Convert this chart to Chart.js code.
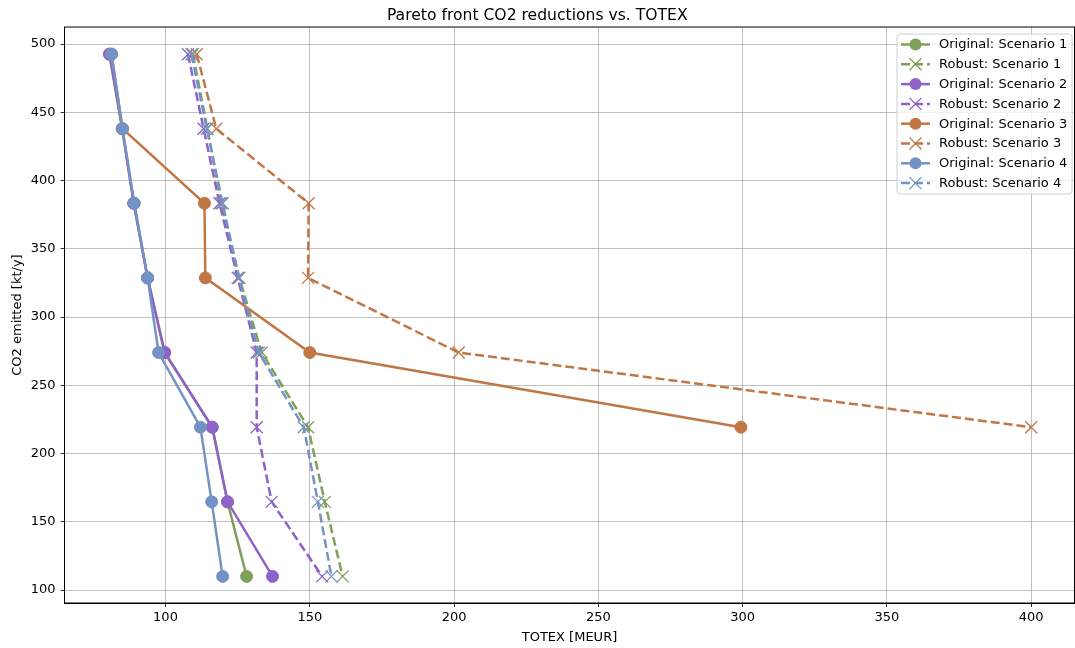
<!DOCTYPE html>
<html>
<head>
<meta charset="utf-8">
<script src="https://cdn.jsdelivr.net/npm/chart.js@4/dist/chart.umd.min.js"></script>
<style>
  html, body { margin: 0; padding: 0; background: #fff; }
  #wrap { width: 1075px; height: 648px; }
</style>
</head>
<body>
<div id="wrap"><canvas id="chart" width="1075" height="648"></canvas></div>
<script>
// CO2 levels (kt/y), shared by all scenarios
const co2 = [492.6, 438, 383.4, 328.7, 274, 219.3, 164.6, 110];

// TOTEX (MEUR) per scenario
const totexOrig1 = [80.6, 85, 89, 93.8, 99.7, 116.2, 121.5, 128.1];
const totexRob1 = [109.5, 114.5, 119.4, 125.6, 133.3, 149.4, 155.2, 161.4];
const totexOrig2 = [80.6, 85, 89, 93.8, 99.7, 116.2, 121.5, 137.1];
const totexRob2 = [107.8, 113.2, 118.7, 125, 131.6, 131.6, 136.8, 154.3];
const totexOrig3 = [81.3, 85.1, 113.5, 113.8, 150, 299.4];
const totexRob3 = [110.8, 117.6, 149.6, 149.4, 201.6, 400];
const totexOrig4 = [81.3, 85.1, 89.2, 93.8, 97.6, 112.1, 116, 119.8];
const totexRob4 = [109, 114.3, 119.8, 125.4, 132.3, 147.9, 152.8, 157.5];

const xTicks = [100, 150, 200, 250, 300, 350, 400];
const yTicks = [100, 150, 200, 250, 300, 350, 400, 450, 500];

const colors = ["#7fa05a", "#8e62c8", "#c07745", "#7393c6"];

const font = "DejaVu Sans";
const dash = [9, 4];

function pts(xs) {
  return xs.map((x, i) => ({ x: x, y: co2[i] }));
}

const series = [
  { label: "Original: Scenario 1", xs: totexOrig1, c: colors[0], robust: false },
  { label: "Robust: Scenario 1", xs: totexRob1, c: colors[0], robust: true },
  { label: "Original: Scenario 2", xs: totexOrig2, c: colors[1], robust: false },
  { label: "Robust: Scenario 2", xs: totexRob2, c: colors[1], robust: true },
  { label: "Original: Scenario 3", xs: totexOrig3, c: colors[2], robust: false },
  { label: "Robust: Scenario 3", xs: totexRob3, c: colors[2], robust: true },
  { label: "Original: Scenario 4", xs: totexOrig4, c: colors[3], robust: false },
  { label: "Robust: Scenario 4", xs: totexRob4, c: colors[3], robust: true },
];

const datasets = series.map((s, i) => ({
  label: s.label,
  data: pts(s.xs),
  showLine: true,
  borderColor: s.c,
  backgroundColor: s.c,
  borderWidth: 2.5,
  borderDash: s.robust ? dash : [],
  pointStyle: s.robust ? "crossRot" : "circle",
  pointRadius: s.robust ? 8.5 : 6,
  pointBorderWidth: s.robust ? 1.3 : 1,
  pointBorderColor: s.c,
  pointBackgroundColor: s.c,
  order: series.length - i,
}));

// box around the plot + legend inside top right
const framePlugin = {
  id: "frame",
  afterDraw(chart) {
    const ctx = chart.ctx;
    const a = chart.chartArea;
    ctx.save();
    ctx.strokeStyle = "#000";
    ctx.lineWidth = 1;
    ctx.strokeRect(a.left, a.top, a.right - a.left, a.bottom - a.top);

    // legend
    const lx = 897, ly = 34, lw = 175, lh = 160;
    ctx.fillStyle = "rgba(255,255,255,0.8)";
    ctx.strokeStyle = "#d0d0d0";
    ctx.beginPath();
    ctx.roundRect(lx, ly, lw, lh, 3);
    ctx.fill();
    ctx.stroke();

    ctx.font = "13px '" + font + "'";
    ctx.textBaseline = "middle";
    series.forEach((s, i) => {
      const y = 44.5 + i * 19.8;
      ctx.strokeStyle = s.c;
      ctx.fillStyle = s.c;
      ctx.lineWidth = 2.5;
      ctx.setLineDash(s.robust ? dash : []);
      ctx.beginPath();
      ctx.moveTo(901, y);
      ctx.lineTo(930, y);
      ctx.stroke();
      ctx.setLineDash([]);
      if (s.robust) {
        ctx.lineWidth = 1.3;
        ctx.beginPath();
        ctx.moveTo(915.5 - 6, y - 6);
        ctx.lineTo(915.5 + 6, y + 6);
        ctx.moveTo(915.5 - 6, y + 6);
        ctx.lineTo(915.5 + 6, y - 6);
        ctx.stroke();
      } else {
        ctx.beginPath();
        ctx.arc(915.5, y, 6, 0, Math.PI * 2);
        ctx.fill();
      }
      ctx.fillStyle = "#000";
      ctx.fillText(s.label, 939, y + 0.5);
    });
    ctx.restore();
  },
};

Chart.defaults.font.family = font;
Chart.defaults.color = "#000";

new Chart(document.getElementById("chart"), {
  type: "scatter",
  data: { datasets: datasets },
  options: {
    responsive: false,
    animation: false,
    layout: { autoPadding: false, padding: { left: 0, right: 0.5, top: 0, bottom: 0 } },
    plugins: {
      legend: { display: false },
      tooltip: { enabled: false },
      title: {
        display: true,
        text: "Pareto front CO2 reductions vs. TOTEX",
        font: { size: 15.6, weight: "normal" },
        color: "#000",
        padding: { top: 7, bottom: 1.3 },
      },
    },
    scales: {
      x: {
        type: "linear",
        min: 65,
        max: 415,
        afterBuildTicks: (s) => { s.ticks = xTicks.map((v) => ({ value: v })); },
        afterFit: (s) => { s.height = 45; },
        ticks: { font: { size: 13 }, color: "#000", padding: 3 },
        grid: { color: "#b0b0b0", lineWidth: 0.8, tickLength: 4, tickColor: "#000" },
        border: { display: true, color: "#000", width: 1 },
        title: {
          display: true,
          text: "TOTEX [MEUR]",
          font: { size: 13 },
          color: "#000",
          padding: { top: 4, bottom: 3 },
        },
      },
      y: {
        type: "linear",
        min: 90.5,
        max: 512.5,
        afterBuildTicks: (s) => { s.ticks = yTicks.map((v) => ({ value: v })); },
        afterFit: (s) => { s.width = 64.5; },
        ticks: { font: { size: 13 }, color: "#000", padding: 5 },
        grid: { color: "#b0b0b0", lineWidth: 0.8, tickLength: 4, tickColor: "#000" },
        border: { display: true, color: "#000", width: 1 },
        title: {
          display: true,
          text: "CO2 emitted [kt/y]",
          font: { size: 13 },
          color: "#000",
          padding: { top: 10, bottom: 4 },
        },
      },
    },
  },
  plugins: [framePlugin],
});
</script>
</body>
</html>
